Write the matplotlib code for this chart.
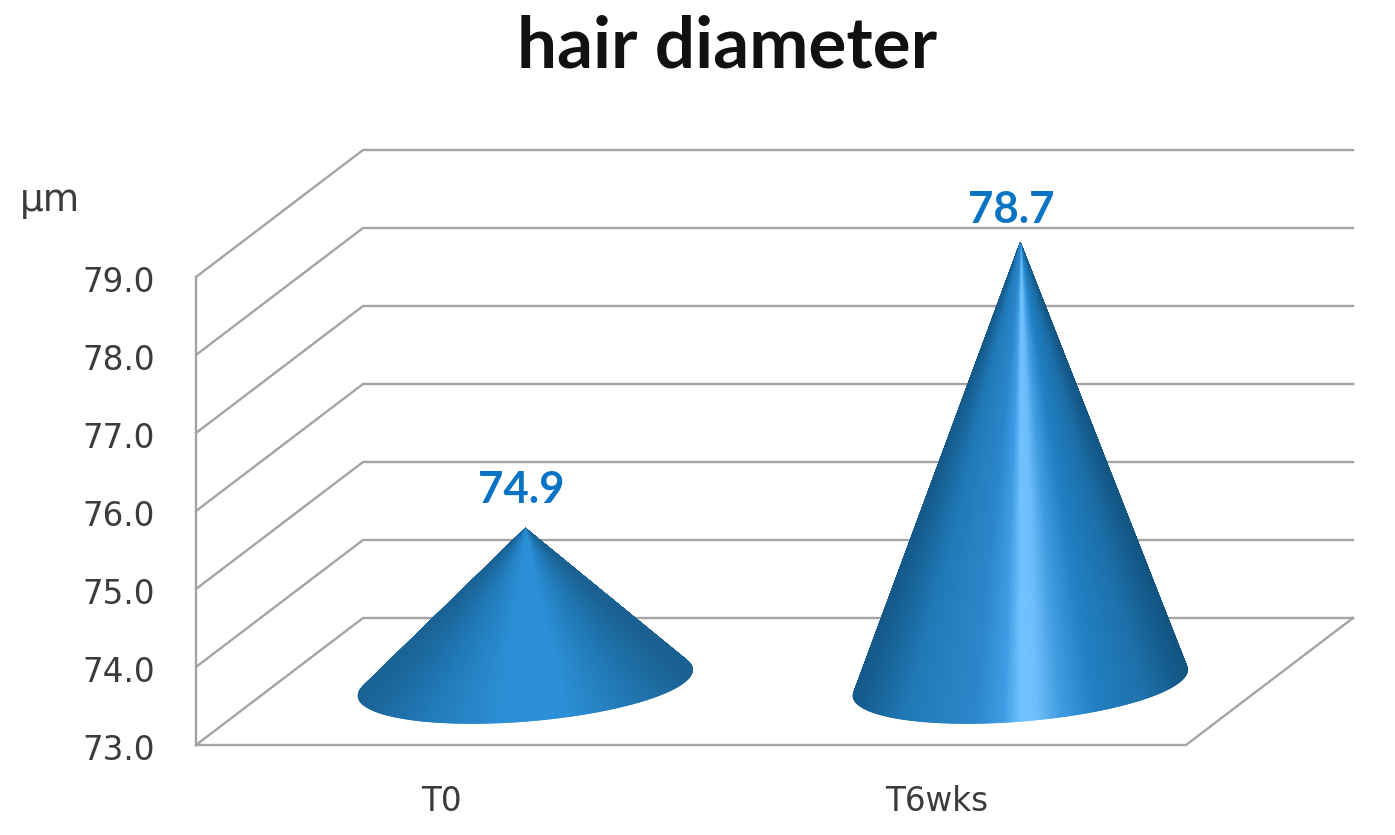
#!/usr/bin/env python3
# hair diameter, excel style 3d cone chart
import numpy as np
import matplotlib
matplotlib.use('Agg')
import matplotlib.pyplot as plt
from matplotlib.collections import PolyCollection
from matplotlib.colors import LinearSegmentedColormap

title = 'hair diameter'
unit = 'µm'
categories = ['T0', 'T6wks']
values = [74.9, 78.7]
cone_tops = [74.98, 78.64]  # height of the tips as drawn, the 3d view squeezes them a bit
y_ticks = [73, 74, 75, 76, 77, 78, 79]

grid_col = '#a4a4a4'
text_col = '#3c3c3c'
label_col = '#0a74c4'

# oblique view: one depth unit moves this far in data units
depth_x = 167 / 495
depth_y = 127 / 78
radius = 0.32
depth_radius = 0.32
mid_depth = 0.49

shade_t0 = [(0.0, '#1a6396'), (0.2, '#2079b8'), (0.42, '#2a8ed4'), (0.62, '#2a8fd6'),
            (0.82, '#1f76b2'), (1.0, '#1a6090')]
shade_t6 = [(0.0, '#14598a'), (0.16, '#1f78b6'), (0.36, '#2a86ca'), (0.45, '#3f9ce4'),
            (0.5, '#70c2ff'), (0.55, '#6dbdfb'), (0.62, '#3f9ce0'), (0.72, '#1f80c4'),
            (0.88, '#1c6ea8'), (1.0, '#125583')]
shades = [shade_t0, shade_t6]
label_dx = [-4, -9]
label_dy = [38, 33]


def project(x, value, depth):
    return x + depth * depth_x, value + depth * depth_y


def draw_cone(ax, center, top, shade):
    # front half of the base plus a bit more, so the corners come out round
    t0 = np.arctan(-depth_radius * depth_x / radius)
    t = np.linspace(t0 - 0.4, t0 + np.pi + 0.4, 360)
    bx, by = project(center + radius * np.cos(t), y_ticks[0], mid_depth - depth_radius * np.sin(t))
    tip = project(center, top, mid_depth)
    cmap = LinearSegmentedColormap.from_list('cone', shade)
    # facets all meet at the tip so the shading converges like in the original
    polys = []
    cols = []
    # back facets first, the front ones paint over them
    mids = 0.5 * (t[:-1] + t[1:])
    for i in np.argsort(np.sin(mids)):
        polys.append([tip, (bx[i], by[i]), (bx[i + 1], by[i + 1])])
        u = (0.5 * (bx[i] + bx[i + 1]) - bx.min()) / (bx.max() - bx.min())
        cols.append(cmap(u))
    pc = PolyCollection(polys, facecolors=cols, edgecolors=cols, linewidths=0.6, zorder=3)
    ax.add_collection(pc)


fig = plt.figure(figsize=(13.95, 8.35), dpi=100)
ax = fig.add_axes([0, 0, 1, 1])
ax.set_xlim(-196 / 495, 1199 / 495)
ax.set_ylim(73 - 90 / 78, 73 + 745 / 78)
ax.axis('off')

n = len(categories)

# walls and floor
for v in y_ticks:
    x0, y0 = project(0, v, 0)
    x1, y1 = project(0, v, 1)
    x2, y2 = project(n, v, 1)
    ax.plot([x0, x1, x2], [y0, y1, y2], color=grid_col, lw=1.7, zorder=1, solid_joinstyle='miter')
    ax.text(-41 / 495, v - 5.5 / 78, f'{v:.1f}', ha='right', va='center', fontsize=23.5, color=text_col,
            family='DejaVu Sans')
ax.plot([0, 0], [y_ticks[0], y_ticks[-1]], color=grid_col, lw=1.7, zorder=1)
fx, fy = project(n, y_ticks[0], 1)
ax.plot([0, n, fx], [y_ticks[0], y_ticks[0], fy], color=grid_col, lw=1.7, zorder=1)

for i, cat in enumerate(categories):
    draw_cone(ax, i + 0.5, cone_tops[i], shades[i])
    ax.text(i + 0.5 - 2 / 495, 73 - 57 / 78, cat, ha='center', va='center', fontsize=23.5,
            color=text_col, family='DejaVu Sans')
    tx, ty = project(i + 0.5, cone_tops[i], mid_depth)
    ax.text(tx + label_dx[i] / 495, ty + label_dy[i] / 78, f'{values[i]:.1f}', ha='center', va='center',
            fontsize=31.5, fontweight='bold', color=label_col, family='Lato', zorder=4)

ax.text(-146 / 495, 73 + 544 / 78, unit, ha='center', va='center', fontsize=27, color=text_col,
        family='DejaVu Sans')
fig.text(727 / 1395, 1 - 47 / 835, title, ha='center', va='center', fontsize=51, fontweight='bold',
         color='#111111', family='Lato')

fig.savefig('out.png', dpi=100)
